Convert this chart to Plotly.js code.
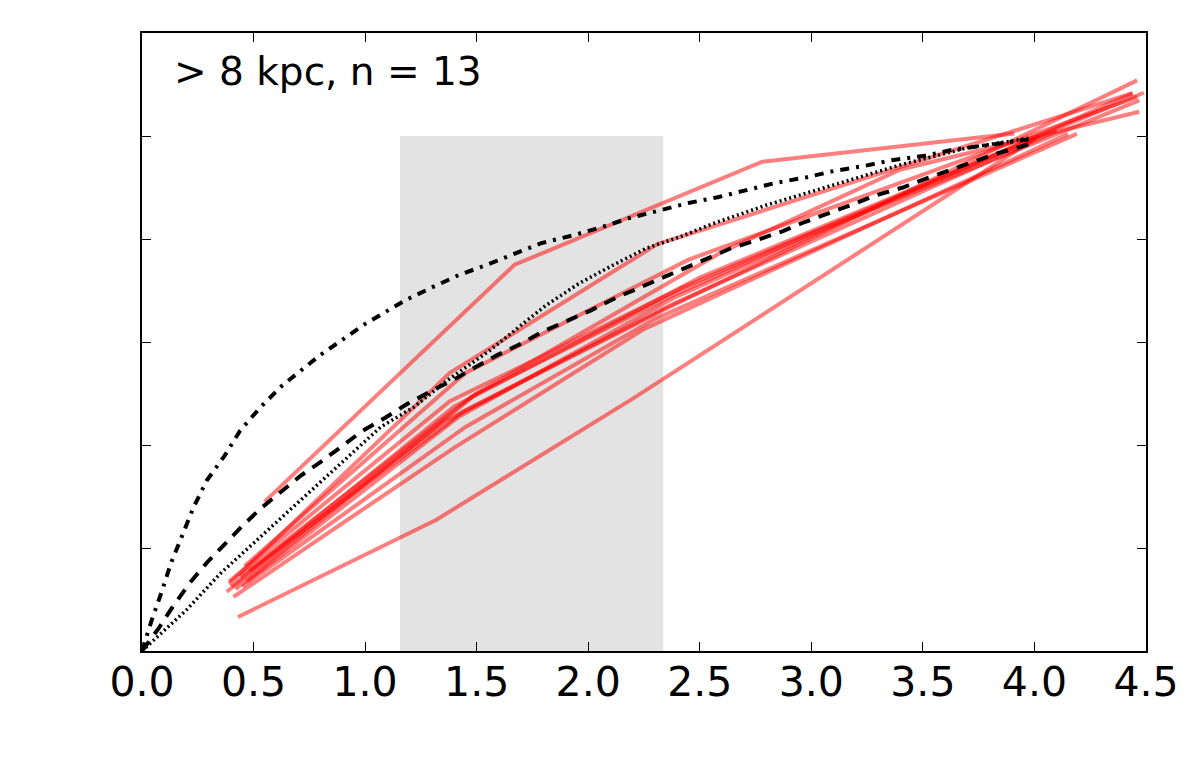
<!DOCTYPE html>
<html>
<head>
<meta charset="utf-8">
<script src="https://cdn.plot.ly/plotly-3.0.1.min.js"></script>
<style>
  html, body { margin: 0; padding: 0; background: #ffffff; }
  #chart { width: 1196px; height: 773px; }
</style>
</head>
<body>
<div id="chart"></div>
<script>
// Individual profiles (13 galaxies, > 8 kpc)
const profileX = [
    [0.55, 1.67, 2.78, 3.91],
    [0.39, 1.38, 2.31, 4.44],
    [0.43, 1.32, 2.20, 4.02],
    [0.46, 1.45, 2.45, 4.46],
    [0.40, 1.40, 2.50, 4.49],
    [0.44, 1.48, 2.40, 3.00, 4.47],
    [0.38, 1.35, 2.35, 4.46],
    [0.47, 1.42, 2.38, 4.44],
    [0.42, 1.50, 2.60, 3.40, 4.47],
    [0.41, 1.40, 2.25, 4.15],
    [0.45, 1.45, 2.30, 4.19],
    [0.39, 1.38, 2.42, 4.00],
    [0.48, 1.44, 2.36, 4.10]
];
const profileY = [
    [0.29, 0.75, 0.95, 1.005],
    [0.13, 0.54, 0.79, 1.083],
    [0.066, 0.255, 0.49, 1.00],
    [0.165, 0.54, 0.76, 1.076],
    [0.125, 0.475, 0.725, 1.084],
    [0.145, 0.495, 0.695, 0.81, 1.069],
    [0.115, 0.445, 0.665, 1.108],
    [0.135, 0.455, 0.685, 1.083],
    [0.12, 0.50, 0.775, 0.935, 1.047],
    [0.105, 0.395, 0.625, 1.004],
    [0.125, 0.435, 0.645, 1.004],
    [0.135, 0.485, 0.705, 0.995],
    [0.155, 0.465, 0.67, 1.01]
];

// Reference curves
const dashX = [0, 0.076, 0.135, 0.21, 0.29, 0.37, 0.45, 0.53, 0.62, 0.71, 0.81, 0.90, 0.99, 1.09, 1.19,
    1.30, 1.39, 1.49, 1.59, 1.70, 1.79, 1.91, 2.01, 2.12, 2.22, 2.33, 2.43, 2.53, 2.64, 2.75, 2.87,
    2.97, 3.08, 3.19, 3.29, 3.41, 3.52, 3.62, 3.72, 3.84, 3.96, 4.0];
const dashY = [0, 0.045, 0.084, 0.13, 0.171, 0.208, 0.243, 0.276, 0.307, 0.34, 0.37, 0.40, 0.428, 0.453, 0.48,
    0.506, 0.525, 0.55, 0.574, 0.597, 0.619, 0.642, 0.661, 0.685, 0.704, 0.724, 0.743, 0.763, 0.782, 0.797, 0.815,
    0.833, 0.85, 0.868, 0.885, 0.90, 0.918, 0.934, 0.949, 0.967, 0.982, 0.99];

const dotX = [0, 0.1, 0.2, 0.35, 0.5, 0.65, 0.83, 1.07, 1.22, 1.37, 1.56, 1.81, 1.96, 2.11, 2.26, 2.41,
    2.56, 2.80, 3.10, 3.40, 3.70, 3.98];
const dotY = [0, 0.04, 0.08, 0.15, 0.21, 0.27, 0.34, 0.435, 0.474, 0.526, 0.584, 0.671, 0.714, 0.749, 0.782, 0.804,
    0.83, 0.866, 0.905, 0.944, 0.977, 0.996];

const dashDotX = [0, 0.045, 0.09, 0.13, 0.18, 0.23, 0.29, 0.37, 0.44, 0.53, 0.63, 0.8, 1.0, 1.18, 1.30, 1.42,
    1.54, 1.68, 1.79, 1.93, 2.06, 2.18, 2.32, 2.45, 2.58, 2.71, 2.84, 2.98, 3.10, 3.24, 3.36, 3.50,
    3.63, 3.77, 3.90, 4.0];
const dashDotY = [0, 0.062, 0.117, 0.171, 0.224, 0.278, 0.331, 0.379, 0.428, 0.473, 0.516, 0.575, 0.635, 0.681, 0.706, 0.730,
    0.749, 0.772, 0.792, 0.807, 0.823, 0.84, 0.856, 0.87, 0.881, 0.895, 0.909, 0.92, 0.932, 0.942, 0.953, 0.961,
    0.973, 0.981, 0.988, 0.995];

// Shaded band
const bandX = [1.156, 2.336];
const bandTop = 1.0;

const label = '> 8 kpc, n = 13';

const traces = profileX.map((xs, i) => ({
    x: xs,
    y: profileY[i],
    type: 'scatter',
    mode: 'lines',
    line: { color: '#ff0000', width: 4 },
    opacity: 0.5,
    hoverinfo: 'skip'
}));

traces.push({
    x: dashDotX, y: dashDotY, type: 'scatter', mode: 'lines',
    line: { color: '#000000', width: 4, dash: '9px,7px,3px,7px' }
});
traces.push({
    x: dotX, y: dotY, type: 'scatter', mode: 'lines',
    line: { color: '#000000', width: 3.5, dash: '2px,3px' }
});
traces.push({
    x: dashX, y: dashY, type: 'scatter', mode: 'lines',
    line: { color: '#000000', width: 4, dash: '12px,9px' }
});

const axisStyle = {
    showgrid: false,
    zeroline: false,
    showline: true,
    linecolor: '#000000',
    linewidth: 1.5,
    mirror: 'ticks',
    ticks: 'inside',
    ticklen: 9,
    tickwidth: 1.2,
    tickcolor: '#000000'
};

const layout = {
    width: 1196,
    height: 773,
    margin: { l: 142, r: 50, t: 33, b: 122 },
    paper_bgcolor: '#ffffff',
    plot_bgcolor: '#ffffff',
    showlegend: false,
    font: { family: 'DejaVu Sans, sans-serif', size: 40, color: '#000000' },
    xaxis: {
        ...axisStyle,
        range: [0, 4.5],
        dtick: 0.5,
        tick0: 0,
        tickformat: '.1f',
        ticklabelstandoff: -6,
        tickfont: { family: 'DejaVu Sans, sans-serif', size: 41, color: '#000000' }
    },
    yaxis: {
        ...axisStyle,
        range: [0, 1.2],
        dtick: 0.2,
        tick0: 0,
        showticklabels: false
    },
    shapes: [{
        type: 'rect',
        xref: 'x', yref: 'y',
        x0: bandX[0], x1: bandX[1],
        y0: 0, y1: bandTop,
        fillcolor: '#e3e3e3',
        line: { width: 0 },
        layer: 'below'
    }],
    annotations: [{
        text: label,
        xref: 'paper', yref: 'paper',
        x: 0.03, y: 0.937,
        xanchor: 'left', yanchor: 'middle',
        showarrow: false,
        font: { family: 'DejaVu Sans, sans-serif', size: 39, color: '#000000' }
    }]
};

Plotly.newPlot('chart', traces, layout, { displayModeBar: false, responsive: false });
</script>
</body>
</html>
